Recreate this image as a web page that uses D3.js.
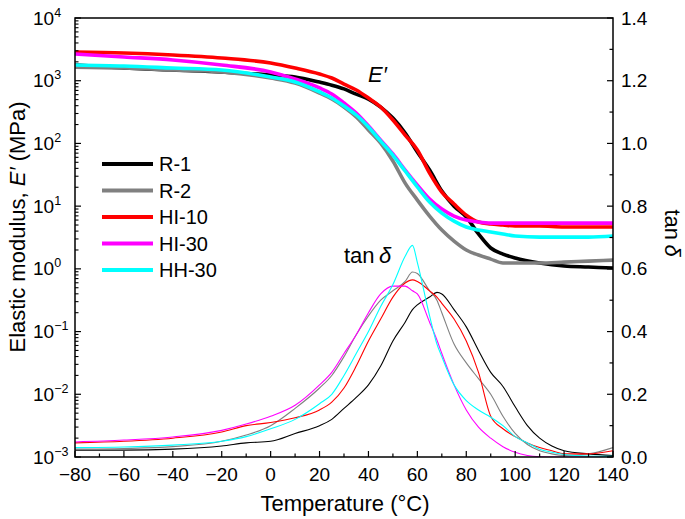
<!DOCTYPE html>
<html><head><meta charset="utf-8">
<script src="https://cdn.jsdelivr.net/npm/d3@7"></script>
<style>body{margin:0;background:#fff}svg{display:block}text{font-family:"Liberation Sans",Arial,sans-serif;fill:#000}</style>
</head><body><svg id="c" width="685" height="519"></svg>
<script>
// ---- data ----
const seriesNames = ["R-1", "R-2", "HI-10", "HI-30", "HH-30"];
const tempE = [-80,-60,-40,-20,0,10,20,25,30,35,40,45,50,55,60,65,70,75,80,85,90,95,100,110,120,130,140];
const eR1  = [1780,1600,1480,1380,1230,1150,950,850,740,610,510,380,254,147,73,37.7,17.4,10.0,6.7,3.6,2.15,1.72,1.49,1.24,1.11,1.07,1.03];
const eR2  = [1650,1595,1480,1380,1105,918,637,511,381,264,164,101,52.4,23.3,12.5,6.95,4.16,2.77,2.0,1.66,1.43,1.24,1.24,1.24,1.28,1.33,1.38];
const eHI10= [2870,2770,2570,2300,1915,1595,1280,1105,885,711,530,381,236,136,78.5,33.7,16.8,10.8,7.2,5.57,5.18,5.0,4.82,4.82,4.65,4.65,4.65];
const eHI30= [2670,2390,2140,1780,1380,1065,766,614,441,305,190,113,67.8,37.7,21.7,13.0,9.0,6.95,6.0,5.57,5.37,5.37,5.37,5.37,5.37,5.37,5.37];
const eHH30= [1780,1715,1595,1480,1145,952,661,530,395,284,183,109,65.3,36.3,20.2,11.6,7.76,5.78,4.65,4.16,3.87,3.59,3.34,3.21,3.21,3.21,3.34];

const tempTan = [-80,-60,-40,-20,-10,0,10,20,25,30,35,40,45,50,55,58,60,65,68,70,75,80,85,90,95,100,105,110,115,120,130,140];
const tanR1  = [0.022,0.022,0.025,0.035,0.045,0.05,0.075,0.10,0.12,0.155,0.19,0.23,0.29,0.37,0.43,0.47,0.485,0.51,0.525,0.52,0.47,0.415,0.34,0.27,0.225,0.16,0.10,0.06,0.035,0.02,0.01,0.005];
const tanR2  = [0.025,0.027,0.033,0.05,0.07,0.10,0.155,0.22,0.26,0.32,0.39,0.45,0.50,0.53,0.56,0.59,0.585,0.53,0.50,0.46,0.36,0.30,0.25,0.20,0.13,0.075,0.04,0.02,0.01,0.005,0.01,0.03];
const tanHI10= [0.045,0.05,0.06,0.08,0.10,0.11,0.125,0.15,0.175,0.22,0.29,0.37,0.44,0.51,0.555,0.565,0.56,0.53,0.51,0.49,0.44,0.37,0.27,0.13,0.09,0.065,0.045,0.03,0.02,0.01,0.01,0.02];
const tanHI30= [0.048,0.054,0.064,0.085,0.105,0.13,0.165,0.23,0.27,0.33,0.39,0.46,0.52,0.545,0.545,0.53,0.52,0.43,0.373,0.33,0.23,0.15,0.095,0.06,0.033,0.015,0.005,0.001,0.0,0.0,0.0,0.0];
const tanHH30= [0.030,0.032,0.038,0.05,0.065,0.09,0.12,0.17,0.20,0.26,0.33,0.40,0.48,0.55,0.64,0.675,0.62,0.45,0.36,0.32,0.23,0.18,0.15,0.127,0.10,0.065,0.045,0.025,0.015,0.008,0.003,0.002];

const xTicks = [-80,-60,-40,-20,0,20,40,60,80,100,120,140];
const yLogExps = [4,3,2,1,0,-1,-2,-3];
const yTanTicks = [0.0,0.2,0.4,0.6,0.8,1.0,1.2,1.4];

// ---- chart ----
const colors = ["#000000","#808080","#ff0000","#ff00ff","#00ffff"];
const eSeries = [eR1,eR2,eHI10,eHI30,eHH30];
const tanSeries = [tanR1,tanR2,tanHI10,tanHI30,tanHH30];
const L=75,R=613,T=18,B=457;
const svg = d3.select("#c");
const x = d3.scaleLinear().domain([-80,140]).range([L,R]);
const yE = d3.scaleLog().domain([1e-3,1e4]).range([B,T]);
const yT = d3.scaleLinear().domain([0,1.4]).range([B,T]);
const minus = s => String(s).replace("-","\u2212");

svg.append("clipPath").attr("id","clip").append("rect").attr("x",L).attr("y",T).attr("width",R-L).attr("height",B-T);
const plot = svg.append("g").attr("clip-path","url(#clip)");

// tan delta lines
const lineT = d3.line().x((d,i)=>x(tempTan[i])).y(d=>yT(d)).curve(d3.curveMonotoneX);
tanSeries.forEach((s,k)=>{
  plot.append("path").attr("d",lineT(s)).attr("fill","none").attr("stroke",colors[k]).attr("stroke-width",1.1);
});
// E' lines
const lineE = d3.line().x((d,i)=>x(tempE[i])).y(d=>yE(d)).curve(d3.curveMonotoneX);
eSeries.forEach((s,k)=>{
  plot.append("path").attr("d",lineE(s)).attr("fill","none").attr("stroke",colors[k]).attr("stroke-width",3.6).attr("stroke-linejoin","round");
});

// frame
svg.append("rect").attr("x",L).attr("y",T).attr("width",R-L).attr("height",B-T).attr("fill","none").attr("stroke","#000").attr("stroke-width",1.5);

// x axis ticks (inward)
const gx = svg.append("g");
d3.range(-80,141,10).forEach(v=>{
  const major = v%20===0;
  gx.append("line").attr("x1",x(v)).attr("x2",x(v)).attr("y1",B).attr("y2",B-(major?6:3.5)).attr("stroke","#000").attr("stroke-width",1.2);
});
xTicks.forEach(v=>{
  gx.append("text").attr("x",x(v)).attr("y",481).attr("text-anchor","middle").attr("font-size",19).text(minus(v));
});
svg.append("text").attr("x",345).attr("y",511).attr("text-anchor","middle").attr("font-size",22).text("Temperature (\u00B0C)");

// left log axis
const gl = svg.append("g");
for(let e=-3;e<4;e++){
  for(let m=2;m<=9;m++){
    const yy=yE(m*Math.pow(10,e));
    gl.append("line").attr("x1",L).attr("x2",L+3.5).attr("y1",yy).attr("y2",yy).attr("stroke","#000").attr("stroke-width",1.1);
  }
}
yLogExps.forEach(e=>{
  const yy=yE(Math.pow(10,e));
  gl.append("line").attr("x1",L).attr("x2",L+6).attr("y1",yy).attr("y2",yy).attr("stroke","#000").attr("stroke-width",1.2);
  const t=gl.append("text").attr("x",33).attr("y",yy+6.5).attr("font-size",19);
  t.append("tspan").text("10");
  t.append("tspan").attr("dy",-8).attr("font-size",12.5).text(minus(e));
});
const yl = svg.append("text").attr("transform","translate(25,227) rotate(-90)").attr("text-anchor","middle").attr("font-size",22);
yl.append("tspan").text("Elastic modulus, ");
yl.append("tspan").attr("font-style","italic").text("E\u2032");
yl.append("tspan").text(" (MPa)");

// right axis
const gr = svg.append("g");
d3.range(0,15).forEach(i=>{
  const v=i/10, major=i%2===0;
  gr.append("line").attr("x1",R).attr("x2",R-(major?6:3.5)).attr("y1",yT(v)).attr("y2",yT(v)).attr("stroke","#000").attr("stroke-width",1.2);
});
yTanTicks.forEach(v=>{
  gr.append("text").attr("x",621).attr("y",yT(v)+6.5).attr("font-size",19).text(v.toFixed(1));
});
const yr = svg.append("text").attr("transform","translate(665,233) rotate(90)").attr("text-anchor","middle").attr("font-size",22);
yr.append("tspan").text("tan\u2009");
yr.append("tspan").attr("font-style","italic").text("\u03B4");

// annotations
svg.append("text").attr("x",368).attr("y",82).attr("font-size",22).attr("font-style","italic").text("E\u2032");
const an = svg.append("text").attr("x",344).attr("y",263).attr("font-size",22);
an.append("tspan").text("tan\u2009");
an.append("tspan").attr("font-style","italic").text("\u03B4");

// legend
const lg = svg.append("g");
seriesNames.forEach((n,i)=>{
  const yy = 164 + i*26.5;
  lg.append("line").attr("x1",102).attr("x2",153).attr("y1",yy).attr("y2",yy).attr("stroke",colors[i]).attr("stroke-width",4);
  lg.append("text").attr("x",159).attr("y",yy+7).attr("font-size",20).text(n);
});
</script></body></html>
